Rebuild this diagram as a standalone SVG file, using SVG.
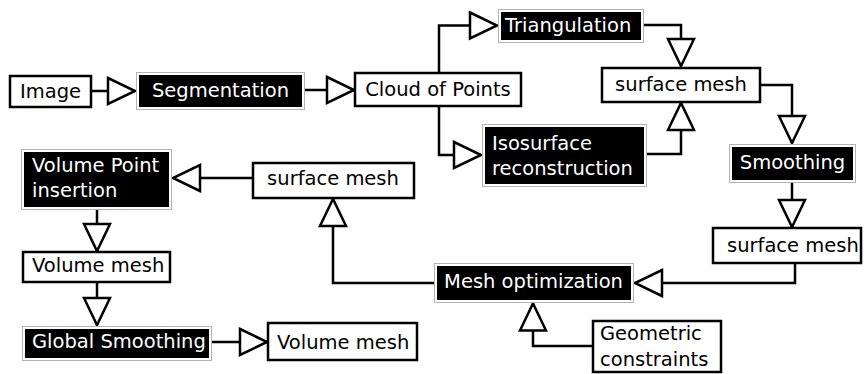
<svg xmlns="http://www.w3.org/2000/svg" width="864" height="374" viewBox="0 0 864 374">
<defs>
<style>
.wb{fill:#fff;stroke:#000;stroke-width:2.5}
.bo{fill:#fff;stroke:#b4b4b4;stroke-width:1}
.bi{fill:#000;stroke:none}
.t{font-family:"DejaVu Sans",Verdana,sans-serif;font-size:19.5px;fill:#000}
.tw{font-family:"DejaVu Sans",Verdana,sans-serif;font-size:19.5px;fill:#fff}
.c{fill:none;stroke:#000;stroke-width:2.5;marker-end:url(#tri)}
</style>
<marker id="tri" markerUnits="userSpaceOnUse" markerWidth="32" markerHeight="32" refX="28" refY="14" orient="auto" overflow="visible">
<path d="M1,1 L28,14 L1,27 Z" fill="#fff" stroke="#000" stroke-width="2.5"/>
</marker>
</defs>
<rect width="864" height="374" fill="#fff"/>
<g id="connectors">
<path class="c" d="M91,91 H135"/>
<path class="c" d="M305,90 H354"/>
<path class="c" d="M439,72 V25.5 H497"/>
<path class="c" d="M439,106 V155 H481"/>
<path class="c" d="M644,25 H681 V66"/>
<path class="c" d="M647,154 H681 V103"/>
<path class="c" d="M760,85 H792 V143"/>
<path class="c" d="M792,183 V227"/>
<path class="c" d="M795,263 V283 H635"/>
<path class="c" d="M593,346 H533 V303.5"/>
<path class="c" d="M434,283 H333 V199"/>
<path class="c" d="M253,178 H173"/>
<path class="c" d="M97,210 V251"/>
<path class="c" d="M97,282 V325"/>
<path class="c" d="M212,342 H267"/>
</g>
<g id="image"><rect class="wb" x="10" y="76" width="81" height="31"/><text class="t" x="50.5" y="97.5" text-anchor="middle">Image</text></g>
<g id="segmentation"><rect class="bo" x="136.5" y="72.5" width="168" height="37"/><rect class="bi" x="139" y="75" width="163" height="32"/><text class="tw" x="220.5" y="97" text-anchor="middle">Segmentation</text></g>
<g id="cloud"><rect class="wb" x="355" y="73" width="166" height="33"/><text class="t" x="438" y="96" text-anchor="middle">Cloud of Points</text></g>
<g id="triangulation"><rect class="bo" x="498.5" y="9.5" width="145" height="33"/><rect class="bi" x="501" y="12" width="140" height="28"/><text class="tw" x="505" y="32">Triangulation</text></g>
<g id="surface-mesh-1"><rect class="wb" x="602" y="68" width="158" height="34"/><text class="t" x="681" y="91" text-anchor="middle">surface mesh</text></g>
<g id="isosurface"><rect class="bo" x="482.5" y="124.5" width="164" height="62"/><rect class="bi" x="485" y="127" width="159" height="57"/><text class="tw" x="492" y="150">Isosurface</text><text class="tw" x="492" y="175">reconstruction</text></g>
<g id="smoothing"><rect class="bo" x="729.5" y="144.5" width="126" height="38"/><rect class="bi" x="732" y="147" width="121" height="33"/><text class="tw" x="792.5" y="169" text-anchor="middle">Smoothing</text></g>
<g id="surface-mesh-2"><rect class="wb" x="713" y="228" width="148" height="35"/><text class="t" x="727" y="252">surface mesh</text></g>
<g id="mesh-optimization"><rect class="bo" x="434.5" y="263.5" width="199" height="39"/><rect class="bi" x="437" y="266" width="194" height="34"/><text class="tw" x="533.5" y="288" text-anchor="middle">Mesh optimization</text></g>
<g id="geometric-constraints"><rect class="wb" x="593" y="321" width="128" height="51"/><text class="t" x="600" y="340">Geometric</text><text class="t" x="600" y="366">constraints</text></g>
<g id="surface-mesh-3"><rect class="wb" x="253" y="163" width="161" height="35"/><text class="t" x="333" y="185" text-anchor="middle">surface mesh</text></g>
<g id="volume-point-insertion"><rect class="bo" x="21.5" y="149.5" width="150" height="60"/><rect class="bi" x="24" y="152" width="145" height="55"/><text class="tw" x="32" y="172">Volume Point</text><text class="tw" x="32" y="197">insertion</text></g>
<g id="volume-mesh-1"><rect class="wb" x="23" y="252" width="147" height="30"/><text class="t" x="32" y="272">Volume mesh</text></g>
<g id="global-smoothing"><rect class="bo" x="22.5" y="326.5" width="189" height="34"/><rect class="bi" x="25" y="329" width="184" height="29"/><text class="tw" x="32" y="348">Global Smoothing</text></g>
<g id="volume-mesh-2"><rect class="wb" x="268" y="323" width="149" height="37"/><text class="t" x="277" y="349">Volume mesh</text></g>
</svg>
